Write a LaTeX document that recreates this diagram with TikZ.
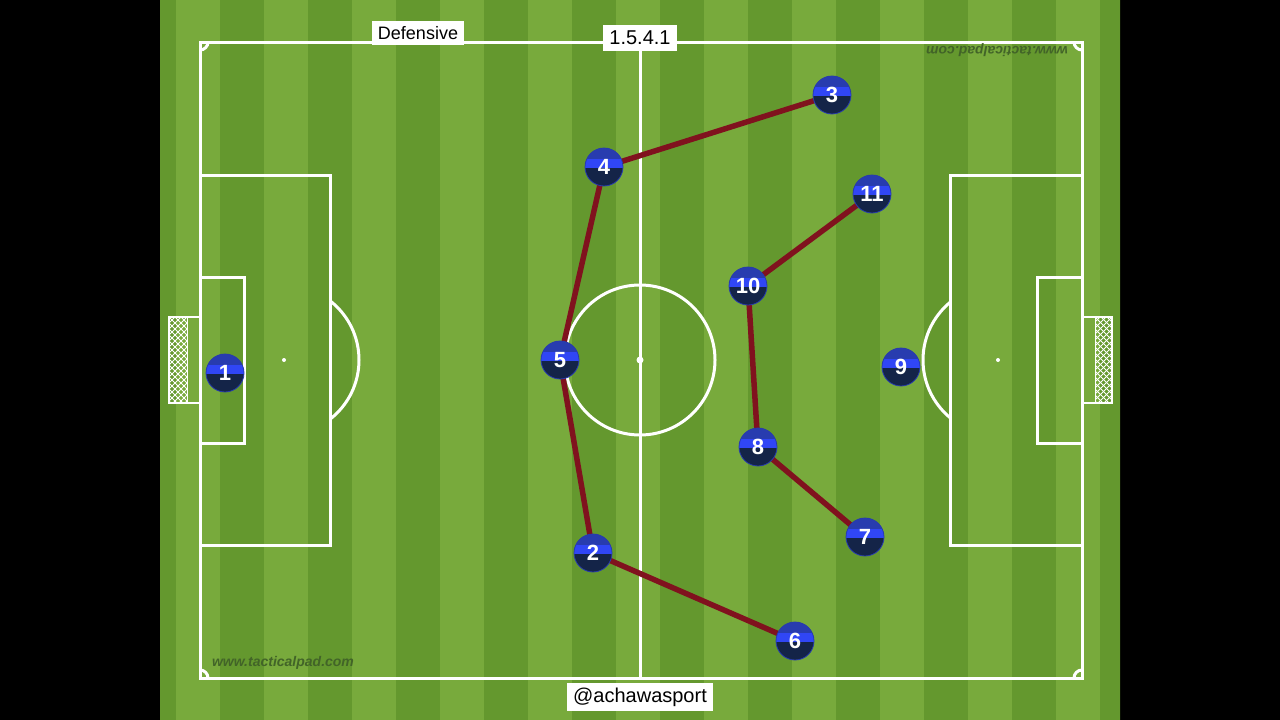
\documentclass[tikz,border=0pt]{standalone}
\usepackage{fontspec}
\setmainfont{Liberation Sans}
\definecolor{grasslight}{RGB}{120,170,60}
\definecolor{grassdark}{RGB}{100,152,46}
\definecolor{ballnavy}{RGB}{20,36,72}
\definecolor{ballblue}{RGB}{40,60,175}
\definecolor{bandblue}{RGB}{48,70,245}
\definecolor{linkred}{RGB}{128,18,30}
\definecolor{markgreen}{RGB}{66,100,40}
\pgfdeclarelayer{pitch}
\pgfdeclarelayer{links}
\pgfsetlayers{pitch,links,main}
\begin{document}
\begin{tikzpicture}[x=1pt, y=-1pt,
    chalk/.style={draw=white, line width=3pt},
    netline/.style={draw=white, line width=.8pt},
    player/.style={circle, draw=ballblue, line width=.8pt, fill=ballnavy, minimum size=38pt, inner sep=0pt, text=white, font=\fontsize{22}{22}\selectfont\bfseries,
      path picture={\fill[ballblue] (path picture bounding box.north west) rectangle ([yshift=2pt]path picture bounding box.east); \fill[bandblue] ([yshift=8pt]path picture bounding box.west) rectangle ([yshift=-1pt]path picture bounding box.east);}},
    link/.style={draw=linkred, line width=5.5pt},
    tag/.style={fill=white, text=black, inner xsep=6pt, inner ysep=5pt, font=\fontsize{20}{20}\selectfont},
    brand/.style={text=markgreen, font=\fontsize{14}{14}\selectfont\bfseries\itshape}]
  \useasboundingbox (0,0) rectangle (1280,720);
  \begin{pgfonlayer}{pitch}
    \fill[black] (0,0) rectangle (1280,720);
    \fill[grasslight] (160,0) rectangle (1120,720);
    \begin{scope}
      \clip (160,0) rectangle (1120,720);
      \foreach \sx in {132,220,...,1100} \fill[grassdark] (\sx,0) rectangle ++(44,720);
    \end{scope}
    % field markings
    \draw[chalk] (200,42) rectangle (1082,678);
    \draw[chalk] (640,42) -- (640,678);
    \draw[chalk] (640,360) circle[radius=75];
    \fill[white] (640,360) circle[radius=3.5];
    \draw[chalk] (200,175) rectangle (330,545);
    \draw[chalk] (200,277) rectangle (244,443);
    \draw[chalk] (1082,175) rectangle (950,545);
    \draw[chalk] (1082,277) rectangle (1037,443);
    \fill[white] (284,360) circle[radius=2]; \fill[white] (998,360) circle[radius=2];
    \begin{scope}
      \clip (330,0) rectangle (950,720);
      \draw[chalk] (284,360) circle[radius=75];
      \draw[chalk] (998,360) circle[radius=75];
    \end{scope}
    \begin{scope}
      \clip (200,42) rectangle (1082,678);
      \foreach \cx/\cy in {200/42,1082/42,200/678,1082/678} \draw[chalk] (\cx,\cy) circle[radius=8];
    \end{scope}
    % goals
    \begin{scope}
      \clip (169,317) rectangle (187,403);
      \foreach \k in {-24,-18,...,96} {\draw[netline] (169,317+\k) -- (187,335+\k); \draw[netline] (187,317+\k) -- (169,335+\k);}
    \end{scope}
    \begin{scope}
      \clip (1095,317) rectangle (1112,403);
      \foreach \k in {-24,-18,...,96} {\draw[netline] (1095,317+\k) -- (1112,334+\k); \draw[netline] (1112,317+\k) -- (1095,334+\k);}
    \end{scope}
    \draw[white, line width=2pt] (200,317) -- (169,317) -- (169,403) -- (200,403); \draw[white, line width=1pt] (187,317) -- (187,403);
    \draw[white, line width=2pt] (1082,317) -- (1112,317) -- (1112,403) -- (1082,403); \draw[white, line width=1pt] (1095,317) -- (1095,403);
    \node[brand] (brandlow) at (283,663) {www.tacticalpad.com};
    \node[brand, rotate=180] (brandtop) at (997,50) {www.tacticalpad.com};
  \end{pgfonlayer}
  \node[tag, font=\fontsize{18}{18}\selectfont] (phase) at (418,33) {Defensive};
  \node[tag, inner ysep=6pt] (shape) at (640,38) {1.5.4.1};
  \node[tag] (credit) at (640,697) {@achawasport};
  \node[player] (p1) at (225,373) {1};
  \node[player] (p2) at (593,553) {2};
  \node[player] (p3) at (832,95) {3};
  \node[player] (p4) at (604,167) {4};
  \node[player] (p5) at (560,360) {5};
  \node[player] (p6) at (795,641) {6};
  \node[player] (p7) at (865,537) {7};
  \node[player] (p8) at (758,447) {8};
  \node[player] (p9) at (901,367) {9};
  \node[player] (p10) at (748,286) {10};
  \node[player] (p11) at (872,194) {11};
  \begin{pgfonlayer}{links}
    \draw[link] (p3.center) -- (p4.center) -- (p5.center) -- (p2.center) -- (p6.center);
    \draw[link] (p11.center) -- (p10.center) -- (p8.center) -- (p7.center);
  \end{pgfonlayer}
\end{tikzpicture}
\end{document}
